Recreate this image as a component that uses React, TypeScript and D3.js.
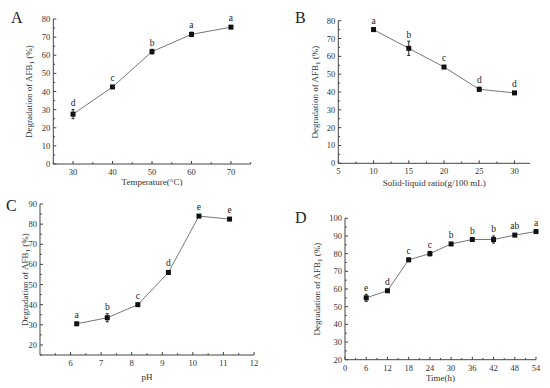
import React from 'react';
import * as d3 from 'd3';

// panel A: temperature
const tempX = [30, 40, 50, 60, 70];
const tempY = [27.5, 42.5, 62, 71.5, 75.5];
const tempErr = [2.5, 0.6, 1.3, 1.2, 0.6];
const tempSig = ['d', 'c', 'b', 'a', 'a'];

// panel B: solid-liquid ratio
const ratioX = [10, 15, 20, 25, 30];
const ratioY = [75, 64.5, 54, 41.5, 39.5];
const ratioErr = [1, 4, 0.5, 1.2, 0.5];
const ratioSig = ['a', 'b', 'c', 'd', 'd'];

// panel C: pH
const phX = [6.2, 7.2, 8.2, 9.2, 10.2, 11.2];
const phY = [30.5, 33.5, 40, 56, 84, 82.5];
const phErr = [0.5, 2, 0.5, 1, 0.5, 0.5];
const phSig = ['a', 'b', 'c', 'd', 'e', 'e'];

// panel D: time
const timeX = [6, 12, 18, 24, 30, 36, 42, 48, 54];
const timeY = [55, 59, 76.5, 80, 85.5, 88, 88, 90.5, 92.5];
const timeErr = [2, 0.5, 1, 1.3, 0.5, 0.5, 2, 0.5, 1];
const timeSig = ['e', 'd', 'c', 'c', 'b', 'b', 'b', 'ab', 'a'];

const FONT = '"Liberation Serif", "DejaVu Serif", serif';
const AXIS = '#444';
const TEXT = '#333';

type PanelProps = {
  letter: string;
  letterPos: [number, number];
  xs: number[];
  ys: number[];
  errs: number[];
  sigs: string[];
  xDomain: [number, number];
  yDomain: [number, number];
  xRange: [number, number];
  yRange: [number, number];
  xTicks: number[];
  xMinor: number[];
  yTicks: number[];
  yMinor: number[];
  xLabel: string;
  xLabelY: number;
  yLabelX: number;
};

function Panel(p: PanelProps) {
  const x = d3.scaleLinear().domain(p.xDomain).range(p.xRange);
  const y = d3.scaleLinear().domain(p.yDomain).range(p.yRange);
  const pts = p.xs.map((v, i) => ({ x: v, y: p.ys[i], e: p.errs[i], s: p.sigs[i] }));
  const line = d3.line<{ x: number; y: number }>().x(d => x(d.x)).y(d => y(d.y));
  const [x0, x1] = p.xRange;
  const [yb, yt] = p.yRange;
  const midY = (yb + yt) / 2;
  const midX = (x0 + x1) / 2;
  return (
    <g fontFamily={FONT}>
      <text x={p.letterPos[0]} y={p.letterPos[1]} fontSize={16} fill="#222">{p.letter}</text>
      {/* axes */}
      <line x1={x0} x2={x1} y1={yb} y2={yb} stroke={AXIS} strokeWidth={1} />
      <line x1={x0} x2={x0} y1={yb} y2={yt} stroke={AXIS} strokeWidth={1} />
      {p.xTicks.map(t => (
        <g key={'xt' + t}>
          <line x1={x(t)} x2={x(t)} y1={yb} y2={yb - 3} stroke={AXIS} />
          <text x={x(t)} y={yb + 11} fontSize={8.5} textAnchor="middle" fill={TEXT}>{t}</text>
        </g>
      ))}
      {p.xMinor.map(t => (
        <line key={'xm' + t} x1={x(t)} x2={x(t)} y1={yb} y2={yb - 1.8} stroke={AXIS} />
      ))}
      {p.yTicks.map(t => (
        <g key={'yt' + t}>
          <line x1={x0} x2={x0 + 3} y1={y(t)} y2={y(t)} stroke={AXIS} />
          <text x={x0 - 3} y={y(t) + 3} fontSize={8.5} textAnchor="end" fill={TEXT}>{t}</text>
        </g>
      ))}
      {p.yMinor.map(t => (
        <line key={'ym' + t} x1={x0} x2={x0 + 1.8} y1={y(t)} y2={y(t)} stroke={AXIS} />
      ))}
      {/* axis titles */}
      <text x={midX} y={p.xLabelY} fontSize={9} textAnchor="middle" fill={TEXT}>{p.xLabel}</text>
      <text transform={`translate(${p.yLabelX},${midY}) rotate(-90)`} fontSize={9} textAnchor="middle" fill={TEXT}>
        Degradation of AFB<tspan fontSize={7} dy={2}>1</tspan><tspan dy={-2}> (%)</tspan>
      </text>
      {/* data */}
      <path d={line(pts) || ''} fill="none" stroke="#777" strokeWidth={1} />
      {pts.map((d, i) => (
        <g key={'p' + i}>
          <line x1={x(d.x)} x2={x(d.x)} y1={y(d.y - d.e)} y2={y(d.y + d.e)} stroke="#222" />
          <line x1={x(d.x) - 1.5} x2={x(d.x) + 1.5} y1={y(d.y - d.e)} y2={y(d.y - d.e)} stroke="#222" />
          <line x1={x(d.x) - 1.5} x2={x(d.x) + 1.5} y1={y(d.y + d.e)} y2={y(d.y + d.e)} stroke="#222" />
          <rect x={x(d.x) - 2.5} y={y(d.y) - 2.5} width={5} height={5} fill="#111" />
          <text x={x(d.x)} y={Math.min(y(d.y + d.e), y(d.y) - 2.5) - 3.5} fontSize={9.5} textAnchor="middle" fill="#222">{d.s}</text>
        </g>
      ))}
    </g>
  );
}

const range = (a: number, b: number, s: number) => d3.range(a, b + s / 2, s);

export default function App() {
  return (
    <svg width={550} height={388} style={{ position: 'absolute', left: 0, top: 0, background: '#fff' }}>
      <Panel
        letter="A" letterPos={[11, 23]}
        xs={tempX} ys={tempY} errs={tempErr} sigs={tempSig}
        xDomain={[25, 75]} yDomain={[0, 80]}
        xRange={[53.3, 250.7]} yRange={[164, 19]}
        xTicks={range(30, 70, 10)} xMinor={range(25, 75, 10)}
        yTicks={range(0, 80, 10)} yMinor={range(5, 75, 10)}
        xLabel="Temperature(°C)" xLabelY={185} yLabelX={32}
      />
      <Panel
        letter="B" letterPos={[295, 23]}
        xs={ratioX} ys={ratioY} errs={ratioErr} sigs={ratioSig}
        xDomain={[5, 32.2]} yDomain={[0, 80]}
        xRange={[338.3, 530]} yRange={[163.3, 20.7]}
        xTicks={range(5, 30, 5)} xMinor={range(7.5, 32.5, 5).filter(v => v <= 32.2)}
        yTicks={range(0, 80, 10)} yMinor={range(5, 75, 10)}
        xLabel="Solid-liquid ratio(g/100 mL)" xLabelY={186} yLabelX={318}
      />
      <Panel
        letter="C" letterPos={[6, 211]}
        xs={phX} ys={phY} errs={phErr} sigs={phSig}
        xDomain={[5, 12]} yDomain={[15, 90]}
        xRange={[40, 254]} yRange={[355, 204]}
        xTicks={range(6, 12, 1)} xMinor={range(5.5, 11.5, 1)}
        yTicks={range(20, 90, 10)} yMinor={range(15, 85, 10)}
        xLabel="pH" xLabelY={380} yLabelX={28}
      />
      <Panel
        letter="D" letterPos={[295, 223]}
        xs={timeX} ys={timeY} errs={timeErr} sigs={timeSig}
        xDomain={[0, 54]} yDomain={[20, 100]}
        xRange={[345, 536]} yRange={[359.7, 218.3]}
        xTicks={range(0, 54, 6)} xMinor={range(3, 51, 6)}
        yTicks={range(20, 100, 10)} yMinor={range(25, 95, 10)}
        xLabel="Time(h)" xLabelY={381} yLabelX={320}
      />
    </svg>
  );
}
